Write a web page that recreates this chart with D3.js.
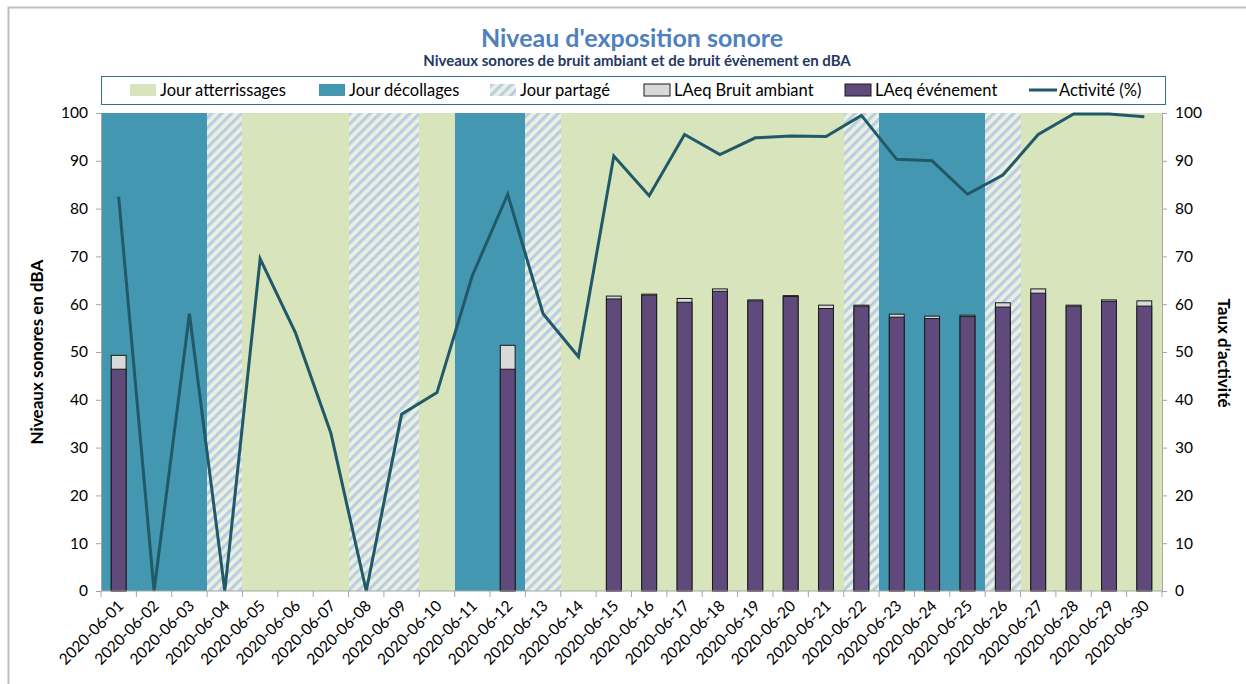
<!DOCTYPE html>
<html>
<head>
<meta charset="utf-8">
<script src="https://cdn.jsdelivr.net/npm/d3@7"></script>
<style>
  body { margin: 0; background: #fff; }
  svg text { font-family: Lato, "Open Sans", sans-serif; }
</style>
</head>
<body>
<div id="chart-wrapper"></div>
<script>
// data
var dates = ["2020-06-01","2020-06-02","2020-06-03","2020-06-04","2020-06-05","2020-06-06",
  "2020-06-07","2020-06-08","2020-06-09","2020-06-10","2020-06-11","2020-06-12","2020-06-13",
  "2020-06-14","2020-06-15","2020-06-16","2020-06-17","2020-06-18","2020-06-19","2020-06-20",
  "2020-06-21","2020-06-22","2020-06-23","2020-06-24","2020-06-25","2020-06-26","2020-06-27",
  "2020-06-28","2020-06-29","2020-06-30"]

// D = décollages, A = atterrissages, P = partagé
var dayType = ["D","D","D","P","A","A","A","P","P","A","D","D","P","A","A","A","A","A","A","A",
  "A","P","D","D","D","P","A","A","A","A"]

var ambiant = [49.3,null,null,null,null,null,null,null,null,null,null,51.4,null,null,61.7,62.1,
  61.2,63.2,60.9,61.8,59.8,59.8,57.9,57.5,57.7,60.3,63.2,59.8,60.9,60.7]

var evenement = [46.4,null,null,null,null,null,null,null,null,null,null,46.4,null,null,61.1,61.9,
  60.4,62.7,60.7,61.6,59.1,59.6,57.3,57.0,57.4,59.4,62.3,59.6,60.6,59.6]

var activite = [82.5,0,58,0,69.5,54,33,0,37,41.5,66,83,58,49,91,82.7,95.5,91.3,94.8,95.2,
  95.1,99.5,90.3,90,83,87,95.5,99.8,99.8,99.2]

var yTicks = [0,10,20,30,40,50,60,70,80,90,100]

var W = 1246, H = 684
var margin = {top: 113, right: 84, bottom: 93, left: 101},
    width = W - margin.left - margin.right,
    height = H - margin.top - margin.bottom

var colA = "#d8e4bc", colD = "#4397b0", colLine = "#215968",
    colEvt = "#604a7b", colAmb = "#d9d9d9", axisCol = "#a6a6a6"

var svg = d3.select("#chart-wrapper")
  .append("svg")
    .attr("width", W)
    .attr("height", H)

// stripes for "jour partagé"
var pat = svg.append("defs").append("pattern")
  .attr("id", "stripes")
  .attr("patternUnits", "userSpaceOnUse")
  .attr("width", 7).attr("height", 7)
  .attr("patternTransform", "rotate(45)")
pat.append("rect").attr("width", 7).attr("height", 7).attr("fill", "#ebf1de")
pat.append("rect").attr("width", 3.2).attr("height", 7).attr("fill", "#b9cde5")

function fillOf(t) { return t == "A" ? colA : t == "D" ? colD : "url(#stripes)" }

// outer frame
svg.append("rect")
  .attr("x", 8.5).attr("y", 7.5)
  .attr("width", W).attr("height", H)
  .attr("fill", "none").attr("stroke", "#bfbfbf").attr("stroke-width", 2)

// titles
svg.append("text")
  .attr("x", 632).attr("y", 47)
  .attr("text-anchor", "middle")
  .style("font-size", "25px").style("font-weight", "bold")
  .attr("fill", "#4f81bd")
  .text("Niveau d'exposition sonore")
svg.append("text")
  .attr("x", 637).attr("y", 66)
  .attr("text-anchor", "middle")
  .style("font-size", "15px").style("font-weight", "bold")
  .attr("fill", "#1f3864")
  .text("Niveaux sonores de bruit ambiant et de bruit évènement en dBA")

// legend box
svg.append("rect")
  .attr("x", 101.5).attr("y", 76.5)
  .attr("width", 1064).attr("height", 28)
  .attr("fill", "#fff").attr("stroke", "#31708a").attr("stroke-width", 1)

var g = svg.append("g")
  .attr("transform", `translate(${margin.left},${margin.top})`)

var x = d3.scaleBand().domain(dates).range([0, width])
var y = d3.scaleLinear().domain([0, 100]).range([height, 0])
var y2 = d3.scaleLinear().domain([0, 100]).range([height, 0])

// day backgrounds
g.selectAll(".bg")
  .data(dates)
  .enter()
  .append("rect")
    .attr("x", d => x(d))
    .attr("y", 0)
    .attr("width", x.bandwidth() + 0.6)
    .attr("height", height)
    .attr("fill", (d, i) => fillOf(dayType[i]))
    .attr("shape-rendering", "crispEdges")

// bars: ambient behind, event in front
var barW = x.bandwidth() * 0.42
var barData = dates.map((d, i) => ({date: d, amb: ambiant[i], evt: evenement[i]}))
  .filter(d => d.amb != null)

g.selectAll(".amb")
  .data(barData)
  .enter()
  .append("rect")
    .attr("x", d => x(d.date) + x.bandwidth() / 2 - barW / 2)
    .attr("y", d => y(d.amb))
    .attr("width", barW)
    .attr("height", d => y(0) - y(d.amb))
    .attr("fill", colAmb)
    .attr("stroke", "#1a1a1a").attr("stroke-width", 1)

g.selectAll(".evt")
  .data(barData)
  .enter()
  .append("rect")
    .attr("x", d => x(d.date) + x.bandwidth() / 2 - barW / 2)
    .attr("y", d => y(d.evt))
    .attr("width", barW)
    .attr("height", d => y(0) - y(d.evt))
    .attr("fill", colEvt)
    .attr("stroke", "#1a1a1a").attr("stroke-width", 1)

// activity line
var line = d3.line()
  .x((d, i) => x(dates[i]) + x.bandwidth() / 2)
  .y(d => y2(d))
g.append("path")
  .datum(activite)
  .attr("d", line)
  .attr("fill", "none")
  .attr("stroke", colLine)
  .attr("stroke-width", 3)
  .attr("stroke-linejoin", "miter")

// left axis
var axL = g.append("g")
  .call(d3.axisLeft(y).tickValues(yTicks).tickSize(5).tickPadding(8))
axL.selectAll("text").style("font-size", "15.5px").attr("fill", "#000")
axL.selectAll("line, path").attr("stroke", axisCol)

// right axis
var axR = g.append("g")
  .attr("transform", `translate(${width},0)`)
  .call(d3.axisRight(y2).tickValues(yTicks).tickSize(5).tickPadding(8))
axR.selectAll("text").style("font-size", "15.5px").attr("fill", "#000")
axR.selectAll("line, path").attr("stroke", axisCol)

// bottom axis, ticks between categories
var axB = g.append("g")
  .attr("transform", `translate(0,${height})`)
axB.append("line")
  .attr("x1", 0).attr("x2", width)
  .attr("stroke", axisCol)
axB.selectAll(".tk")
  .data(dates.concat(["end"]))
  .enter()
  .append("line")
    .attr("x1", (d, i) => i * x.step()).attr("x2", (d, i) => i * x.step())
    .attr("y1", 0).attr("y2", 6)
    .attr("stroke", axisCol)
axB.selectAll(".lbl")
  .data(dates)
  .enter()
  .append("text")
    .attr("transform", d => `translate(${x(d) + x.bandwidth() / 2 + 2},${12}) rotate(-45)`)
    .attr("text-anchor", "end")
    .attr("dy", "0.35em")
    .style("font-size", "15.5px")
    .text(d => d)

// axis titles
svg.append("text")
  .attr("transform", `translate(43,${margin.top + height / 2}) rotate(-90)`)
  .attr("text-anchor", "middle")
  .style("font-size", "17px").style("font-weight", "bold")
  .text("Niveaux sonores en dBA")
svg.append("text")
  .attr("transform", `translate(1218,${margin.top + height / 2 + 1}) rotate(90)`)
  .attr("text-anchor", "middle")
  .style("font-size", "17px").style("font-weight", "bold")
  .text("Taux d'activité")

// legend
var leg = svg.append("g")
var legItems = [
  {label: "Jour atterrissages", x: 130, kind: "rect", fill: colA},
  {label: "Jour décollages", x: 319, kind: "rect", fill: colD},
  {label: "Jour partagé", x: 490, kind: "rect", fill: "url(#stripes)"},
  {label: "LAeq Bruit ambiant", x: 644, kind: "rect", fill: colAmb, stroke: "#1a1a1a"},
  {label: "LAeq événement", x: 845, kind: "rect", fill: colEvt, stroke: "#1a1a1a"},
  {label: "Activité (%)", x: 1029, kind: "line"}
]
legItems.forEach(it => {
  if (it.kind == "rect") {
    leg.append("rect")
      .attr("x", it.x).attr("y", 84)
      .attr("width", 26).attr("height", 12)
      .attr("fill", it.fill)
      .attr("stroke", it.stroke || "none")
  } else {
    leg.append("line")
      .attr("x1", it.x).attr("x2", it.x + 28)
      .attr("y1", 90).attr("y2", 90)
      .attr("stroke", colLine).attr("stroke-width", 3)
  }
  leg.append("text")
    .attr("x", it.x + 30).attr("y", 90)
    .attr("dy", "0.35em")
    .style("font-size", "16.5px")
    .text(it.label)
})
</script>
</body>
</html>
